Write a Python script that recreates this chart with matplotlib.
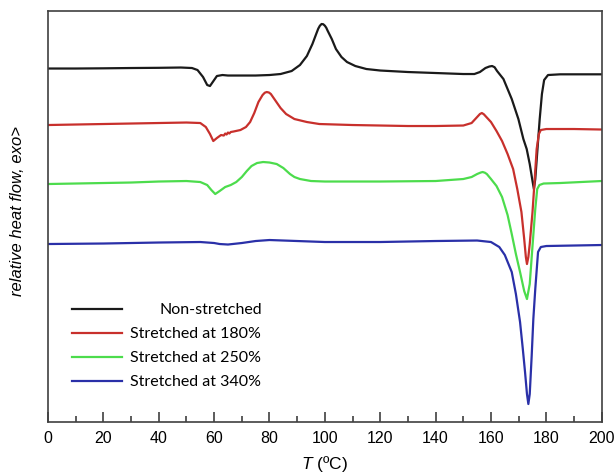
import matplotlib
matplotlib.use("Agg")
import matplotlib.pyplot as plt

plt.rcParams['font.family'] = ['Liberation Sans', 'DejaVu Sans']
plt.rcParams['mathtext.fontset'] = 'custom'
plt.rcParams['mathtext.it'] = 'Liberation Sans:italic'
plt.rcParams['mathtext.rm'] = 'Liberation Sans'

# ---- data (temperature in degC, relative heat flow in arbitrary offset units) ----
labels = ["Non-stretched", "Stretched at 180%", "Stretched at 250%", "Stretched at 340%"]
colors = ["#1a1a1a", "#c8302c", "#4cdc4c", "#2a30a8"]

t_non = [0, 10, 20, 30, 40, 48, 52, 54, 56, 57.5, 58.5, 59.5, 61, 63, 65, 70, 75, 80, 84, 88,
         91, 93.5, 95.5, 97, 97.6, 98.2, 98.8, 99.4, 100, 100.5, 101, 102.5, 104, 106, 108,
         111, 115, 120, 130, 140, 150, 154, 156, 158, 159.4, 160.4, 161.3, 162.2, 164.5, 167.5,
         169.9, 171.7, 172.9, 174, 175, 175.5, 176, 176.8, 177.6, 178.4, 179.2, 180.6, 185, 200]
hf_non = [35.32, 35.32, 35.34, 35.37, 35.39, 35.42, 35.37, 35.17, 34.47, 33.67, 33.57, 33.97,
          34.57, 34.67, 34.62, 34.62, 34.62, 34.67, 34.77, 35.07, 35.67, 36.57, 37.77, 38.87,
          39.30, 39.60, 39.77, 39.75, 39.60, 39.40, 39.10, 38.27, 37.27, 36.47, 35.97, 35.57,
          35.27, 35.12, 34.97, 34.87, 34.77, 34.77, 34.97, 35.37, 35.52, 35.57, 35.45, 35.07,
          34.27, 32.27, 30.27, 28.27, 27.27, 25.77, 24.07, 23.27, 24.27, 27.27, 30.27, 32.77,
          34.17, 34.67, 34.74, 34.74]

t_180 = [0, 10, 20, 30, 40, 50, 55, 57, 58.5, 59.7, 61, 62.5, 63.5, 64, 64.5, 65, 65.5, 66, 67,
         69.5, 71.5, 73, 74.5, 76, 77.5, 78.3, 79, 79.8, 80.5, 82, 84, 86, 89, 93.5, 98, 110, 120,
         130, 140, 150, 153, 155, 156, 156.7, 157.4, 158, 160, 162, 164, 166, 168, 169.5, 171,
         172, 172.6, 173, 173.5, 174, 175, 175.8, 176.5, 177.3, 178, 180, 190, 200]
hf_180 = [29.67, 29.72, 29.77, 29.82, 29.87, 29.92, 29.87, 29.47, 28.77, 28.07, 28.37, 28.67,
          28.62, 28.82, 28.72, 28.92, 28.82, 28.97, 29.02, 29.17, 29.47, 29.97, 30.87, 31.97,
          32.67, 32.90, 32.97, 32.92, 32.77, 32.17, 31.37, 30.77, 30.27, 29.97, 29.77, 29.67,
          29.62, 29.57, 29.57, 29.62, 29.87, 30.47, 30.77, 30.87, 30.75, 30.57, 29.97, 29.07,
          28.07, 26.77, 25.27, 23.27, 20.97, 18.27, 16.47, 15.77, 16.47, 17.77, 20.97, 24.27,
          27.27, 28.77, 29.17, 29.27, 29.27, 29.22]

t_250 = [0, 10, 20, 30, 40, 50, 55, 57.5, 59, 60.4, 62, 64, 66, 68, 70, 71.8, 73.5, 75.5, 77.7,
         80, 82.6, 85, 87.4, 89, 91, 95, 100, 120, 140, 150, 153, 155, 156.3, 157, 157.8, 158.5,
         160, 162, 164, 166, 167.5, 169, 170.5, 172, 173, 174, 175, 176, 176.7, 177.5, 179, 185,
         200]
hf_250 = [23.77, 23.82, 23.87, 23.92, 24.02, 24.07, 23.97, 23.67, 23.17, 22.77, 23.07, 23.47,
          23.67, 23.97, 24.47, 25.07, 25.57, 25.87, 25.97, 25.92, 25.77, 25.37, 24.77, 24.47,
          24.27, 24.07, 24.02, 24.02, 24.07, 24.27, 24.47, 24.77, 24.92, 24.97, 24.90, 24.77,
          24.27, 23.57, 22.47, 20.67, 18.77, 16.77, 14.97, 13.07, 12.27, 13.77, 17.57, 21.27,
          23.27, 23.67, 23.82, 23.87, 24.07]

t_340 = [0, 20, 40, 55, 60, 62, 65, 70, 75, 80, 90, 100, 120, 140, 155, 160, 163, 165, 167.5,
         169, 170.5, 171.5, 172.3, 173, 173.5, 174, 174.7, 175.3, 176, 177, 178, 180, 190, 200]
hf_340 = [17.77, 17.82, 17.92, 17.97, 17.87, 17.77, 17.72, 17.87, 18.07, 18.17, 18.07, 17.97,
          17.97, 18.07, 18.12, 17.97, 17.47, 16.67, 14.97, 12.77, 9.97, 7.27, 4.97, 2.77, 1.77,
          2.77, 6.57, 10.27, 13.27, 16.97, 17.47, 17.57, 17.62, 17.67]

temps = [t_non, t_180, t_250, t_340]
flows = [hf_non, hf_180, hf_250, hf_340]

x_major = list(range(0, 201, 20))
x_minor = list(range(0, 201, 10))

# ---- figure ----
fig = plt.figure(figsize=(6.14, 4.77), dpi=100)
ax = fig.add_axes([0.0782, 0.1138, 0.9018, 0.861])

for t, hf, c in zip(temps, flows, colors):
    ax.plot(t, hf, color=c, lw=1.6, solid_joinstyle='round')

ax.set_xlim(0, 200)
ax.set_ylim(0, 41.07)
ax.set_xticks(x_major)
ax.set_xticks(x_minor, minor=True)
ax.set_yticks([])
ax.tick_params(axis='x', which='major', direction='in', length=7, width=1.2,
               color='#404040', labelsize=11.5, pad=6)
ax.tick_params(axis='x', which='minor', direction='in', length=4, width=1.2, color='#404040')
for s in ax.spines.values():
    s.set_color('#404040')
    s.set_linewidth(1.2)

ax.set_xlabel(r'$T$ (ºC)', fontsize=12.5, labelpad=6)
ax.set_ylabel('relative heat flow, exo>', fontsize=12, style='italic')
ax.yaxis.set_label_coords(-0.042, 0.515)

# ---- legend (manual, first entry right-aligned as in the original) ----
rows_y = [0.274, 0.216, 0.158, 0.099]
for i, (lab, c) in enumerate(zip(labels, colors)):
    ax.plot([0.043, 0.134], [rows_y[i], rows_y[i]], color=c, lw=1.6,
            transform=ax.transAxes)
    if i == 0:
        ax.text(0.387, rows_y[i], lab, transform=ax.transAxes, ha='right', va='center',
                fontsize=11.5, family='Lato')
    else:
        ax.text(0.148, rows_y[i], lab, transform=ax.transAxes, ha='left', va='center',
                fontsize=11.5, family='Lato')

fig.savefig('out.png', dpi=100)
